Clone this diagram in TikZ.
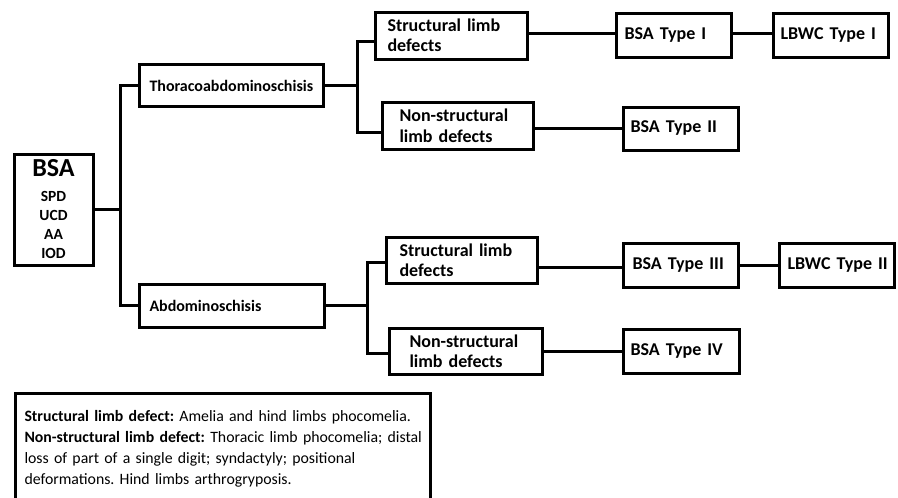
\documentclass[tikz,border=0pt]{standalone}
\usepackage{fontspec}
\setmainfont{Carlito}
\begin{document}
\begin{tikzpicture}[x=1pt,y=-1pt,
  box/.style={draw, line width=3pt, anchor=west, align=left, inner ysep=0pt,
    font=\bfseries\fontsize{18}{20.5}\selectfont},
  conn/.style={line width=3pt}]
\useasboundingbox (0,0) rectangle (898,498);
\clip (0,0) rectangle (898,498);
% root
\node[box, align=center, anchor=center, minimum width=79, minimum height=111, inner xsep=0pt,
  font=\bfseries\fontsize{15.5}{19}\selectfont] (bsa) at (53.5,209.5)
  {{\fontsize{26}{28}\selectfont BSA}\\[6pt]SPD\\UCD\\AA\\IOD};
% level 1
\node[box, minimum height=42, text width=164, inner xsep=10pt,
  font=\bfseries\fontsize{16}{20}\selectfont] (tho) at (138,85.5) {\mbox{Thoracoabdominoschisis}};
\node[box, minimum height=43, text width=165, inner xsep=10pt,
  font=\bfseries\fontsize{16}{20}\selectfont] (abd) at (138,305.5) {Abdominoschisis};
% level 2
\node[box, minimum height=47, text width=128, inner xsep=12pt] (s1) at (374,35.5) {Structural limb\\defects};
\node[box, minimum height=47, text width=117, inner xsep=17pt] (n1) at (381,125.5) {Non-structural\\limb defects};
\node[box, minimum height=46, text width=125, inner xsep=13pt] (s2) at (385,260) {Structural limb\\defects};
\node[box, minimum height=46, text width=113, inner xsep=20pt] (n2) at (388,351) {Non-structural\\limb defects};
% level 3
\node[box, minimum height=44, text width=99, inner xsep=8pt] (t1) at (615,35) {\mbox{BSA Type I}};
\node[box, minimum height=43, text width=101, inner xsep=7pt] (t2) at (622,128.5) {\mbox{BSA Type II}};
\node[box, minimum height=44, text width=97, inner xsep=9pt] (t3) at (622,265) {\mbox{BSA Type III}};
\node[box, minimum height=44, text width=102, inner xsep=7pt] (t4) at (622,351) {\mbox{BSA Type IV}};
% level 4
\node[box, minimum height=44, text width=101, inner xsep=7pt] (l1) at (772,35) {\mbox{LBWC Type I}};
\node[box, minimum height=44, text width=99, inner xsep=8pt] (l2) at (778,265) {\mbox{LBWC Type II}};
% legend
\node[draw, line width=3pt, anchor=north west, text width=397, inner xsep=9pt, inner ysep=17pt,
  align=left, font=\fontsize{15.8}{21}\selectfont] (leg) at (14,392)
  {\frenchspacing
   \mbox{\textbf{Structural limb defect:} Amelia and hind limbs phocomelia.}\\
   \mbox{\textbf{Non-structural limb defect:} Thoracic limb phocomelia; distal}\\
   \mbox{loss of part of a single digit; syndactyly; positional}\\
   \mbox{deformations. Hind limbs arthrogryposis.}\\
   \rule{0pt}{30pt}};
% connectors
\draw[conn] (bsa.east) -- ++(26,0) coordinate (j0);
\draw[conn] (tho.west) -| (j0) |- (abd.west);
\draw[conn] (tho.east) -- ++(32,0) coordinate (j1);
\draw[conn] ([yshift=-6pt]s1.west) -| (j1) |- ([yshift=-7pt]n1.west);
\draw[conn] (abd.east) -- ++(41,0) coordinate (j2);
\draw[conn] ([yshift=-2pt]s2.west) -| (j2) |- ([yshift=-2pt]n2.west);
\draw[conn] ([yshift=2pt]t1.west -| s1.east) -- ([yshift=2pt]t1.west);
\draw[conn] ([yshift=2pt]t1.east) -- ([yshift=2pt]l1.west);
\draw[conn] (n1.east |- t2.west) -- (t2.west);
\draw[conn] ([yshift=-2pt]s2.east |- t3.west) -- ([yshift=-2pt]t3.west);
\draw[conn] (t3.east) -- (l2.west);
\draw[conn] (n2.east |- t4.west) -- (t4.west);
\end{tikzpicture}
\end{document}
